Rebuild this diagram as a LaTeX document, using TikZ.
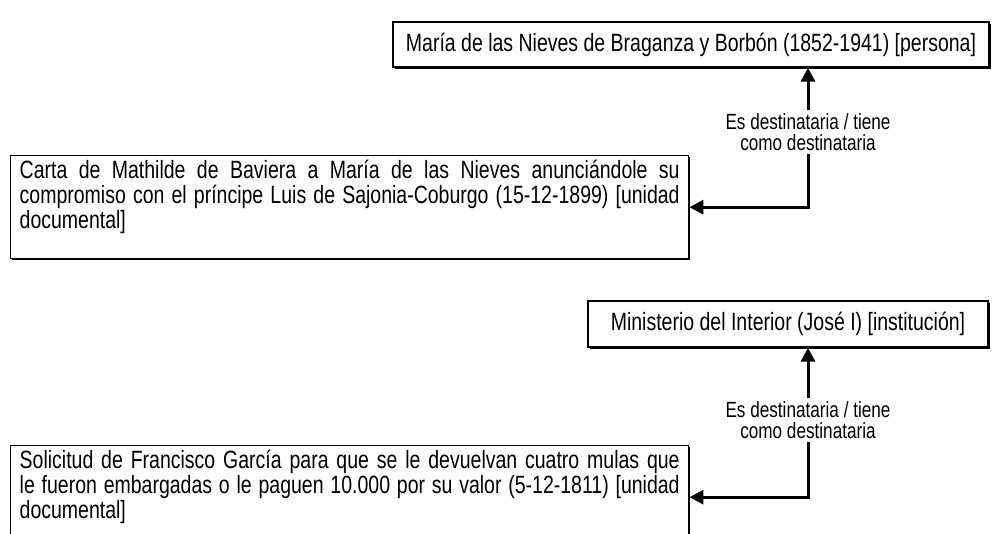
\documentclass[tikz,border=0pt]{standalone}
\usepackage{fontspec}
\setmainfont{Liberation Sans}[FakeStretch=0.78]
\usetikzlibrary{arrows.meta,shadows}
\begin{document}
\begin{tikzpicture}[x=1pt,y=-1pt,
  ent/.style={draw, line width=1.4pt, fill=white, inner sep=0pt,
    font=\fontsize{25}{25}\selectfont,
    drop shadow={shadow xshift=1.6pt, shadow yshift=-1.6pt, fill=black, opacity=1}},
  doc/.style={ent, text width=660pt, align=justify, inner xsep=9pt,
    minimum height=103pt, anchor=north west,
    execute at begin node={\hyphenpenalty=10000 \exhyphenpenalty=10000 \tolerance=10000 }},
  lab/.style={font=\fontsize{22}{21}\selectfont, align=center, inner sep=3pt},
  con/.style={line width=3pt, -{Triangle[length=14pt,width=14pt]}}]
\useasboundingbox (0,0) rectangle (995,534);
\clip (0,0) rectangle (995,534);
\node[ent, minimum width=596pt, minimum height=45pt] (p1) at (691,44.5)
  {María de las Nieves de Braganza y Borbón (1852-1941) [persona]};
\node[doc] (d1) at (10,155)
  {Carta de Mathilde de Baviera a María de las Nieves anunciándole su\linebreak compromiso con el príncipe Luis de Sajonia-Coburgo (15-12-1899) [unidad\linebreak documental]\\\mbox{}};
\node[lab] (l1) at (808,132) {Es destinataria / tiene\\como destinataria};
\draw[con] (l1.north) -- (l1.north |- p1.south);
\draw[con] (l1.south) |- (d1.east);

\node[ent, minimum width=400pt, minimum height=46pt] (i1) at (788,324)
  {Ministerio del Interior (José I) [institución]};
\node[doc] (d2) at (10,445)
  {Solicitud de Francisco García para que se le devuelvan cuatro mulas que\linebreak le fueron embargadas o le paguen 10.000 por su valor (5-12-1811) [unidad\linebreak documental]\\\mbox{}};
\node[lab] (l2) at (808,420) {Es destinataria / tiene\\como destinataria};
\draw[con] (l2.north) -- (l2.north |- i1.south);
\draw[con] (l2.south) |- (d2.east);
\end{tikzpicture}
\end{document}
